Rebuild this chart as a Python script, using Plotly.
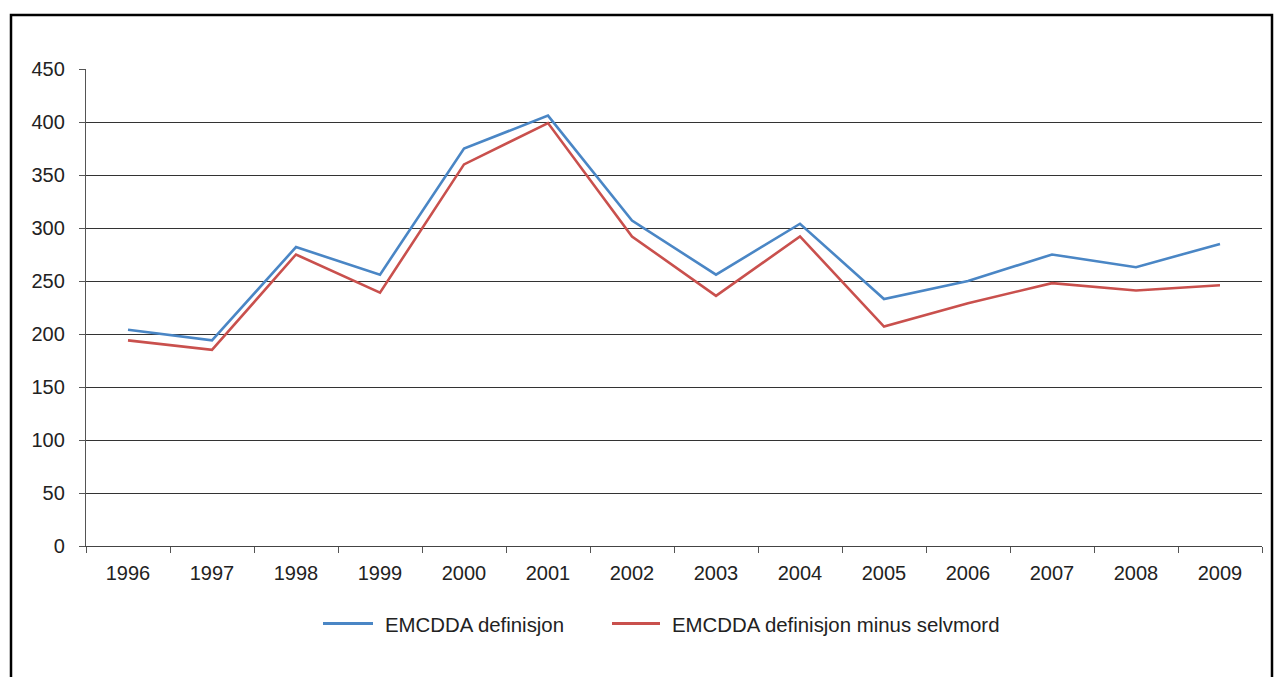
import plotly.graph_objects as go

# Annual counts, 1996-2009
years = ["1996", "1997", "1998", "1999", "2000", "2001", "2002",
         "2003", "2004", "2005", "2006", "2007", "2008", "2009"]
emcdda = [204, 194, 282, 256, 375, 406, 307, 256, 304, 233, 250, 275, 263, 285]
emcdda_minus_suicide = [194, 185, 275, 239, 360, 399, 292, 236, 292, 207, 229, 248, 241, 246]

y_ticks = [0, 50, 100, 150, 200, 250, 300, 350, 400, 450]

FONT = "Liberation Sans, Arial, sans-serif"
TEXT = "#222222"
BLUE = "#4a86c5"
RED = "#c9504d"

series = [
    ("EMCDDA definisjon", emcdda, BLUE),
    ("EMCDDA definisjon minus selvmord", emcdda_minus_suicide, RED),
]

fig = go.Figure()
for name, values, color in series:
    fig.add_trace(go.Scatter(
        x=years, y=values, mode="lines", name=name,
        line=dict(color=color, width=2.6), showlegend=False,
    ))

W, H = 1274, 677
L, R, T, B = 86, 12, 69, 131
pw, ph = W - L - R, H - T - B


def px_x(px):
    return (px - L) / pw


def px_y(py):
    return (H - B - py) / ph


# outer frame around the chart
fig.add_shape(
    type="rect", xref="paper", yref="paper",
    x0=px_x(11), x1=px_x(1272), y0=px_y(700), y1=px_y(15),
    line=dict(color="black", width=2.5), layer="above",
)

# legend below the plot: a line sample followed by the series name
legend_y = 623.5
legend_items = [(323, 373, 383), (612, 660, 670)]
for (x0, x1, xt), (name, _, color) in zip(legend_items, series):
    fig.add_shape(
        type="line", xref="paper", yref="paper",
        x0=px_x(x0), x1=px_x(x1), y0=px_y(legend_y), y1=px_y(legend_y),
        line=dict(color=color, width=3),
    )
    fig.add_annotation(
        xref="paper", yref="paper", x=px_x(xt), y=px_y(legend_y + 1.5),
        xanchor="left", yanchor="middle", showarrow=False, text=name,
        font=dict(family=FONT, size=20.4, color=TEXT),
    )

fig.update_layout(
    width=W, height=H,
    margin=dict(l=L, r=R, t=T, b=B, pad=0),
    paper_bgcolor="white", plot_bgcolor="white",
    font=dict(family=FONT, size=20, color=TEXT),
    showlegend=False,
    xaxis=dict(
        type="category", tickson="boundaries",
        ticks="outside", ticklen=6, tickcolor="#555555", tickwidth=1,
        showline=True, linecolor="#444444", linewidth=1.3,
        showgrid=False, zeroline=False, ticklabelstandoff=9,
        tickfont=dict(family=FONT, size=20, color=TEXT),
        range=[-0.5, len(years) - 0.5],
    ),
    yaxis=dict(
        range=[0, 450], tickvals=y_ticks,
        ticks="outside", ticklen=6, tickcolor="#555555", tickwidth=1,
        showline=True, linecolor="#555555", linewidth=1.3,
        showgrid=True, gridcolor="#333333", gridwidth=1.2,
        zeroline=False, ticklabelstandoff=10,
        tickfont=dict(family=FONT, size=20, color=TEXT),
    ),
)

fig.write_html("out.html")
